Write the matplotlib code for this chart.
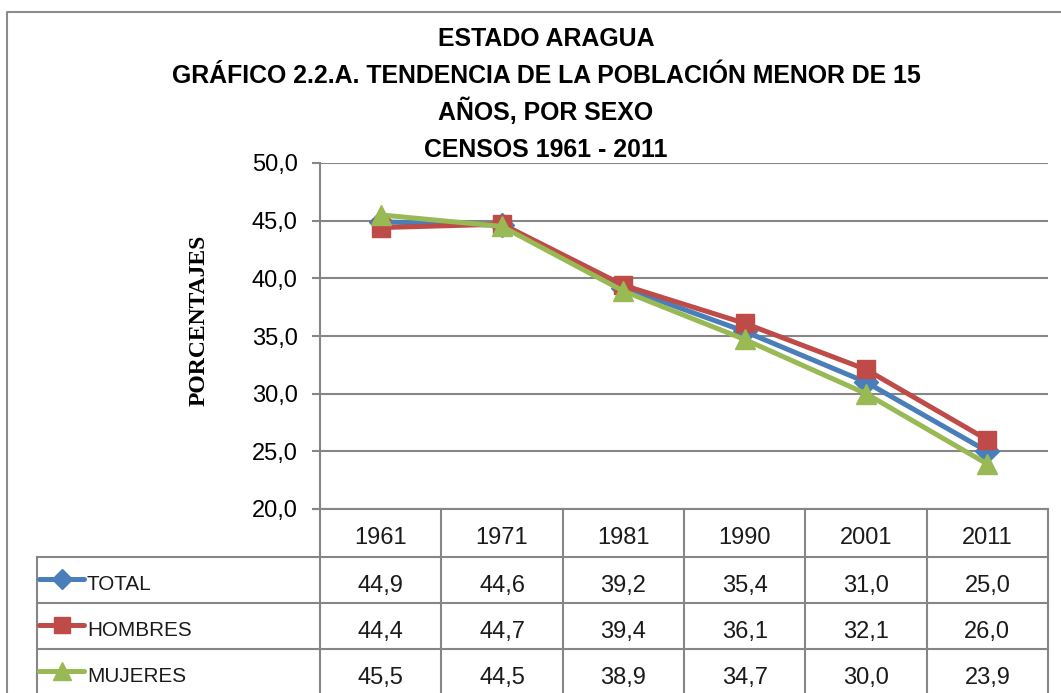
import numpy as np
import matplotlib
matplotlib.use("Agg")
import matplotlib.pyplot as plt
from matplotlib import font_manager as fm
from matplotlib.lines import Line2D

# data
years = ['1961', '1971', '1981', '1990', '2001', '2011']
total = [44.9, 44.6, 39.2, 35.4, 31.0, 25.0]
hombres = [44.4, 44.7, 39.4, 36.1, 32.1, 26.0]
mujeres = [45.5, 44.5, 38.9, 34.7, 30.0, 23.9]
series_names = ['TOTAL', 'HOMBRES', 'MUJERES']
series_vals = [total, hombres, mujeres]
series_colors = ['#4A7EBB', '#BE4B48', '#98B954']
series_markers = ['D', 's', '^']
marker_sizes = [12, 13, 15]

title_lines = ['ESTADO ARAGUA',
               'GRÁFICO 2.2.A. TENDENCIA DE LA POBLACIÓN MENOR DE 15',
               'AÑOS, POR SEXO',
               'CENSOS 1961 - 2011']

W, H = 1061, 693
GRID = '#868686'

# a narrow sans if there is one, else plain Liberation Sans fitted by width
names = {f.name for f in fm.fontManager.ttflist}
if 'Liberation Sans Narrow' in names:
    SANS_N = ['Liberation Sans Narrow', 'DejaVu Sans']
else:
    SANS_N = ['Liberation Sans', 'DejaVu Sans']


def fx(px):
    return px / W


def fy(py):
    return 1 - py / H


fig = plt.figure(figsize=(W / 100, H / 100), dpi=100)
renderer = fig.canvas.get_renderer()


def fit_size(txt, width_px, weight='normal', base=20):
    t = fig.text(0, 0, txt, fontsize=base, fontweight=weight, family=SANS_N)
    w = t.get_window_extent(renderer).width
    t.remove()
    return base * width_px / w


# outer chart border (only top and left are inside the picture)
fig.add_artist(Line2D([fx(7), fx(7), 1.01], [0, fy(12), fy(12)],
                      transform=fig.transFigure, color='#8c8c8c', lw=1.5))

# titles
title_fs = fit_size(title_lines[1], 752, 'bold')
for txt, base in zip(title_lines, [46, 83, 120, 157]):
    fig.text(fx(546), fy(base), txt, ha='center', va='baseline',
             fontsize=title_fs, fontweight='bold', family=SANS_N)

# main plot
L, R, T, B = 320, 1048, 163, 509
ax = fig.add_axes([fx(L), fy(B), fx(R - L), fy(T) - fy(B)])
x = np.arange(len(years))
for name, vals, col, mk, ms in zip(series_names, series_vals, series_colors,
                                   series_markers, marker_sizes):
    ax.plot(x, vals, color=col, lw=3.6, marker=mk, ms=ms, mec=col, mfc=col,
            zorder=3, solid_joinstyle='round')

ax.set_xlim(-0.5, len(years) - 0.5)
ax.set_ylim(20, 50)
ax.set_yticks(np.arange(20, 51, 5))
ax.set_yticklabels([f'{v:.1f}'.replace('.', ',') for v in np.arange(20, 51, 5)],
                   family='Liberation Sans', fontsize=17)
ax.set_xticks([])
ax.grid(axis='y', color=GRID, lw=1.5)
ax.set_axisbelow(True)
for s in ['top', 'right', 'bottom']:
    ax.spines[s].set_visible(False)
ax.spines['left'].set_color(GRID)
ax.spines['left'].set_linewidth(1.5)
ax.tick_params(axis='y', length=6, width=1.5, color=GRID, pad=10)
ax.set_ylabel('PORCENTAJES', family='Liberation Serif', fontweight='bold',
              fontsize=17)
ax.yaxis.set_label_coords((210 - L) / (R - L), (B - 320) / (B - T))

# data table under the plot
lab_w = (L - 37) * len(years) / (R - L)
row_edges = [0, 48, 94, 140, 186]
tab = fig.add_axes([fx(37), fy(B + row_edges[-1]), fx(R - 37),
                    fy(B) - fy(B + row_edges[-1])])
tab.set_xlim(-0.5 - lab_w, len(years) - 0.5)
tab.set_ylim(row_edges[-1], 0)
tab.axis('off')

lkw = dict(color=GRID, lw=1.5, clip_on=False)
left_edge = -0.5 - lab_w
right_edge = len(years) - 0.5
tab.plot([-0.56, right_edge], [0, 0], **lkw)
for k in range(len(years) + 1):
    tab.plot([k - 0.5, k - 0.5], [0, row_edges[-1]], **lkw)
for yy in row_edges[1:-1]:
    tab.plot([left_edge, right_edge], [yy, yy], **lkw)
tab.plot([left_edge, left_edge], [row_edges[1], row_edges[-1]], **lkw)

for i, yr in enumerate(years):
    tab.text(i, row_edges[0] + 35, yr, ha='center', va='baseline',
             fontsize=17, family='Liberation Sans', color='#1a1a1a')

label_fs = fit_size('HOMBRES', 104)
ppx = len(years) / (R - L)  # data units per pixel
for r, (name, vals, col, mk, ms) in enumerate(zip(series_names, series_vals,
                                                  series_colors, series_markers,
                                                  marker_sizes)):
    top = row_edges[r + 1]
    x0 = left_edge + 2 * ppx
    x1 = left_edge + 47 * ppx
    tab.plot([x0, x1], [top + 22, top + 22], color=col, lw=3.6,
             solid_capstyle='round', clip_on=False)
    tab.plot([(x0 + x1) / 2], [top + 22], marker=mk, ms=ms * 0.85, color=col,
             clip_on=False)
    tab.text(left_edge + 50 * ppx, top + 33, name, ha='left', va='baseline',
             fontsize=label_fs, color='#1a1a1a', family=SANS_N)
    for i, v in enumerate(vals):
        tab.text(i, top + 35, f'{v:.1f}'.replace('.', ','), ha='center',
                 va='baseline', fontsize=17, family='Liberation Sans',
                 color='#1a1a1a')

fig.savefig('out.png', dpi=100)
